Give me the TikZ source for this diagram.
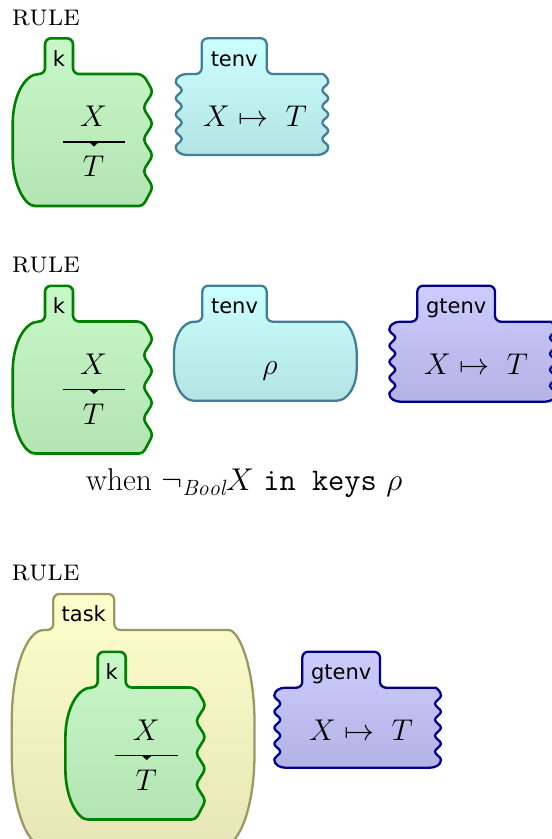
\RequirePackage{fix-cm}
\documentclass[tikz,border=0pt]{standalone}
\usepackage{fontspec}
\newfontfamily\labfont{DejaVu Sans}
\definecolor{kdraw}{RGB}{0,128,0}
\definecolor{ktop}{RGB}{200,247,200}
\definecolor{kbot}{RGB}{180,227,180}
\definecolor{tdraw}{RGB}{65,126,152}
\definecolor{ttop}{RGB}{204,255,255}
\definecolor{tbot}{RGB}{179,227,227}
\definecolor{gdraw}{RGB}{0,0,140}
\definecolor{gtop}{RGB}{204,204,255}
\definecolor{gbot}{RGB}{178,178,228}
\definecolor{ydraw}{RGB}{153,153,102}
\definecolor{ytop}{RGB}{255,255,204}
\definecolor{ybot}{RGB}{230,230,182}

\newcommand\hv[4]{.. controls ({#1+0.5523*((#3)-(#1))},#2) and (#3,{#4+0.5523*((#2)-(#4))}) .. (#3,#4)}
\newcommand\vh[4]{.. controls (#1,{#2+0.5523*((#4)-(#2))}) and ({#3+0.5523*((#1)-(#3))},#4) .. (#3,#4)}
% sine edge: starts at x=#1, alternates to #2; start y #3, signed half period #4, #5 half waves
\newcommand\wave[5]{\foreach \wi in {1,...,#5}{ .. controls ({#1+((#2)-(#1))*mod(\wi-1,2)},{#3+(\wi-1)*(#4)+0.36*(#4)}) and ({#1+((#2)-(#1))*mod(\wi,2)},{#3+\wi*(#4)-0.36*(#4)}) .. ({#1+((#2)-(#1))*mod(\wi,2)},{#3+\wi*(#4)})}}

% k cell outline (rule 1 position)
\newcommand\kpath{(12.7,140) -- (12.7,124) \vh{12.7}{124}{39}{74} [rounded corners=6pt] -- (45,74) -- (45,38.3) -- (73,38.3) -- (73,74) -- (143,74) [rounded corners=4pt] -- (153,91.7) -- (143,107.6) -- (153,123.5) -- (143,139.4) -- (153,155.3) -- (143,171.2) -- (153,187) -- (143,206) -- (39,206) [sharp corners] \hv{39}{206}{12.7}{156} -- cycle}
% gtenv outline (rule 2 position)
\newcommand\gpath{(400,321.7) [rounded corners=6pt] -- (417.3,321.7) -- (417.3,285.7) -- (495,285.7) -- (495,321.7) -- (545,321.7) [sharp corners]
  .. controls (550.5,321.7) and (556,324.7) .. (556,329.7) \wave{556}{550}{329.7}{8}{8}
  .. controls (556,398.7) and (550.5,401.7) .. (545,401.7) -- (400.3,401.7)
  .. controls (394.8,401.7) and (389.3,398.7) .. (389.3,393.7) \wave{389.3}{395.3}{393.7}{-8}{8}
  .. controls (389.3,324.7) and (394.8,321.7) .. (400.3,321.7) -- cycle}

\newcommand\kcell[3]{%
\begin{scope}[shift={(#1,#2)}]
\path[kc] \kpath;
\node[lab, anchor=base] (#3lab) at (59,66) {k};
\node[anchor=base] (#3top) at (93.5,126.7) {$X$};
\node[anchor=base] (#3bot) at (93.5,176.7) {$T$};
\draw[rw] (62.5,142) -- (125,142);
\fill (89,142) -- (99,142) -- (94,146.5) -- cycle;
\end{scope}}

\newcommand\gcell[3]{%
\begin{scope}[shift={(#1,#2)}]
\path[gc] \gpath;
\node[lab, anchor=base] (#3lab) at (456.2,313.5) {gtenv};
\node[anchor=base] (#3body) at (476,374.5) {$X \mapsto\ T$};
\end{scope}}

\begin{document}
\begin{tikzpicture}[x=1pt,y=-1pt,
 every node/.style={inner sep=0pt, outer sep=0pt, font=\fontsize{30}{36}\selectfont},
 lab/.style={font=\fontsize{21}{25}\selectfont\labfont},
 kc/.style={draw=kdraw, line width=2.6pt, top color=ktop, bottom color=kbot, line join=round},
 tc/.style={draw=tdraw, line width=2.3pt, top color=ttop, bottom color=tbot, line join=round},
 gc/.style={draw=gdraw, line width=2.3pt, top color=gtop, bottom color=gbot, line join=round},
 yc/.style={draw=ydraw, line width=2.3pt, top color=ytop, bottom color=ybot, line join=round},
 rw/.style={line width=1.2pt}]
\useasboundingbox (0,0) rectangle (552,839);
\clip (0,0) rectangle (552,839);

% ---------- rule 1 ----------
\node[anchor=base west] (rule1) at (12,25) {\textsc{rule}};
\kcell{0}{0}{ka}
\path[tc] (190,74) [rounded corners=6pt] -- (201.7,74) -- (201.7,38.3) -- (266.7,38.3) -- (266.7,74) -- (317,74) [sharp corners]
  .. controls (322.5,74) and (328.3,77) .. (328.3,82) \wave{328.3}{322.3}{82}{8.125}{8}
  .. controls (328.3,152) and (322.5,155) .. (317,155) -- (187,155)
  .. controls (181.5,155) and (175.7,152) .. (175.7,147) \wave{175.7}{181.7}{147}{-8.125}{8}
  .. controls (175.7,77) and (181.5,74) .. (187,74) -- cycle;
\node[lab, anchor=base] (tenvalab) at (234.2,66) {tenv};
\node[anchor=base] (tenvabody) at (255,126.7) {$X \mapsto\ T$};

% ---------- rule 2 ----------
\node[anchor=base west] (rule2) at (12,272.5) {\textsc{rule}};
\kcell{0}{247.5}{kb}
\path[tc] (174,362) -- (174,354) \vh{174}{354}{194}{321.7} [rounded corners=6pt] -- (202.3,321.7) -- (202.3,285.7) -- (266.7,285.7) -- (266.7,321.7) -- (336.7,321.7) [sharp corners]
  \hv{336.7}{321.7}{356.7}{354} -- (356.7,368.4) \vh{356.7}{368.4}{336.7}{400.7} -- (194,400.7) \hv{194}{400.7}{174}{368.4} -- cycle;
\node[lab, anchor=base] (tenvblab) at (234.5,313.5) {tenv};
\node[anchor=base] (tenvbbody) at (270,374) {$\rho$};
\gcell{0}{0}{ga}
\node[anchor=base, font=\fontsize{31.5}{38}\selectfont] (side) at (244.2,490.5) {when $\neg_{\mathit{Bool}}X$ \texttt{in keys} $\rho$};

% ---------- rule 3 ----------
\node[anchor=base west] (rule3) at (11.7,580) {\textsc{rule}};
\path[yc] (11.7,740) -- (11.7,722) \vh{11.7}{722}{43.7}{630} [rounded corners=6pt] -- (53.3,630) -- (53.3,594) -- (114.3,594) -- (114.3,630) -- (222.5,630) [sharp corners]
  \hv{222.5}{630}{254.5}{722} -- (254.5,754) \vh{254.5}{754}{222.5}{846} -- (43.7,846) \hv{43.7}{846}{11.7}{754} -- cycle;
\node[lab, anchor=base] (tasklab) at (83.8,621.7) {task};
\kcell{52.7}{613.5}{kc}
\gcell{-115}{366}{gb}
\end{tikzpicture}
\end{document}
